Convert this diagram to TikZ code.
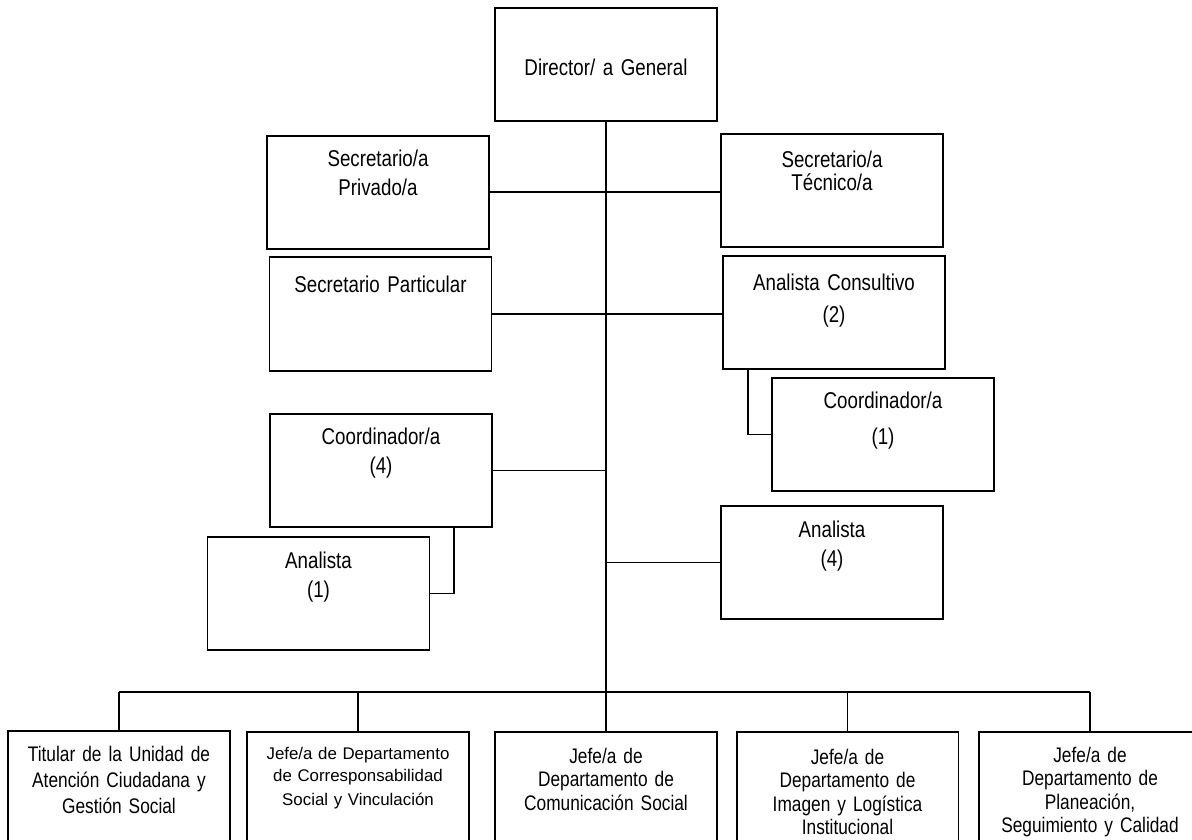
\documentclass[tikz,border=0pt]{standalone}
\usepackage{fontspec}
\setmainfont{Liberation Sans}
\newfontfamily\narrowsf[FakeStretch=0.82]{Liberation Sans}
\newcommand\cargofont{\narrowsf\fontsize{13}{16}\selectfont}
\newcommand\deptofont{\narrowsf\fontsize{12}{13.1}\selectfont}
\newcommand\smalldeptofont{\fontsize{9.6}{12.4}\selectfont}
\tikzset{
	cargo/.style 2 args={draw, inner sep=0pt, anchor=north, text width=4.44cm, align=center, font=\cargofont, text height=#1, text depth=#2},
	depto/.style 2 args={cargo={#1}{#2}, font=\deptofont}
}
\begin{document}
\begin{tikzpicture} [x=0.02cm, y=-0.02cm, line width=1.1pt]
	\clip (0,0) rectangle (1192,839);
	\node [cargo={1.36cm}{0.90cm}] (dir) at (606,7) {Director/ a General};
	\node [cargo={0.62cm}{1.64cm}] (privado) at (378,135) {Secretario/a\\Privado/a};
	\node [cargo={0.68cm}{1.58cm}] (tecnico) at (832,133) {Secretario/a\\[-3pt]Técnico/a};
	\node [cargo={0.72cm}{1.56cm}] (particular) at (380.5,256) {Secretario Particular};
	\node [cargo={0.70cm}{1.56cm}] (consultivo) at (834,255) {Analista Consultivo\\[2pt](2)};
	\node [cargo={0.62cm}{1.64cm}] (coordA) at (883,377) {Coordinador/a\\[4pt](1)};
	\node [cargo={0.62cm}{1.64cm}] (coordB) at (381,413) {Coordinador/a\\(4)};
	\node [cargo={0.64cm}{1.62cm}] (analistaA) at (318.5,536) {Analista\\(1)};
	\node [cargo={0.64cm}{1.62cm}] (analistaB) at (832,505) {Analista\\(4)};
	\node [depto={0.62cm}{1.98cm}] (titular) at (119,730) {Titular de la Unidad de\\[1.5pt]Atención Ciudadana y\\[1.5pt]Gestión Social};
	\node [depto={0.56cm}{2.04cm}, font=\smalldeptofont] (corresp) at (358,731) {Jefe/a de Departamento\\de Corresponsabilidad\\[1pt]Social y Vinculación};
	\node [depto={0.64cm}{1.96cm}] (comunic) at (606,731) {Jefe/a de\\Departamento de\\Comunicación Social};
	\node [depto={0.66cm}{1.94cm}] (imagen) at (847.5,731) {Jefe/a de\\Departamento de\\Imagen y Logística\\Institucional};
	\node [depto={0.62cm}{1.98cm}] (plan) at (1090,731) {Jefe/a de\\Departamento de\\Planeación,\\Seguimiento y Calidad};
	\coordinate (bus) at (606,692);
	\draw (dir.south) -- (dir.south |- bus);
	\draw (privado.east) -- (privado.east -| tecnico.west);
	\draw (particular.east) -- (particular.east -| consultivo.west);
	\draw (coordB.east) -- (coordB.east -| dir.south);
	\draw (analistaB.west) -- (analistaB.west -| dir.south);
	\draw ([xshift=0.52cm]consultivo.south west) |- (coordA.west);
	\draw ([xshift=-0.78cm]coordB.south east) |- (analistaA.east);
	\draw (titular.north |- bus) -- (plan.north |- bus);
	\foreach \d in {titular, corresp, comunic, imagen, plan}
		\draw (\d.north) -- (\d.north |- bus);
\end{tikzpicture}
\end{document}
